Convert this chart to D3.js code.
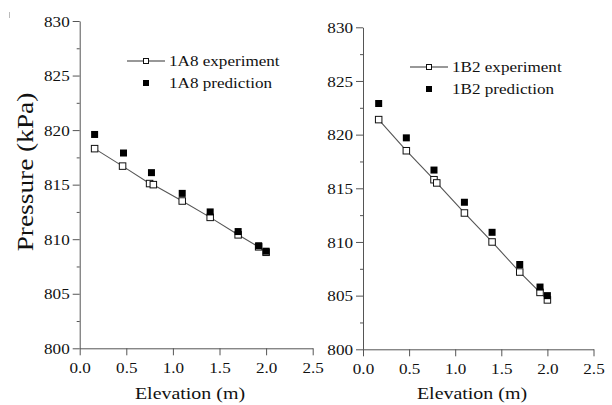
<!DOCTYPE html>
<html>
<head>
<meta charset="utf-8">
<script src="https://cdn.jsdelivr.net/npm/d3@7"></script>
<style>
  html, body { margin: 0; padding: 0; background: #fff; }
  svg { display: block; }
</style>
</head>
<body>
<svg id="chart" width="612" height="405"></svg>
<script>
// two pressure-vs-elevation panels, Origin style (open squares + line vs filled squares)

const xTicks = [0.0, 0.5, 1.0, 1.5, 2.0, 2.5];
const yTicks = [800, 805, 810, 815, 820, 825, 830];

// 1A8
const elev1A8Exp  = [0.16, 0.46, 0.75, 0.79, 1.10, 1.40, 1.70, 1.92, 2.00];
const pres1A8Exp  = [818.3, 816.7, 815.1, 815.0, 813.5, 812.0, 810.4, 809.3, 808.8];
const elev1A8Pred = [0.16, 0.47, 0.77, 1.10, 1.40, 1.70, 1.92, 2.00];
const pres1A8Pred = [819.6, 817.9, 816.1, 814.2, 812.5, 810.7, 809.4, 808.9];

// 1B2
const elev1B2Exp  = [0.17, 0.47, 0.77, 0.80, 1.10, 1.40, 1.70, 1.92, 2.00];
const pres1B2Exp  = [821.4, 818.5, 815.8, 815.5, 812.7, 810.0, 807.2, 805.3, 804.6];
const elev1B2Pred = [0.17, 0.47, 0.77, 1.10, 1.40, 1.70, 1.92, 2.00];
const pres1B2Pred = [822.9, 819.7, 816.7, 813.7, 810.9, 807.9, 805.8, 805.0];

const FONT = "Liberation Serif, Times New Roman, serif";
const AXIS = "#555";
const STRETCH = 1.14; // glyphs in the source look a little wide

const panels = [
  { name: "1A8", ex: elev1A8Exp, ey: pres1A8Exp, px: elev1A8Pred, py: pres1A8Pred,
    x0: 79.7, x1: 312.7, yTop: 21, yBot: 348.3, legX: 127, legY: 61, titleX: 190 },
  { name: "1B2", ex: elev1B2Exp, ey: pres1B2Exp, px: elev1B2Pred, py: pres1B2Pred,
    x0: 363, x1: 593.5, yTop: 27.3, yBot: 349.3, legX: 410, legY: 67, titleX: 472 },
];

const svg = d3.select("#chart");

// stray mark at the top-left of the scan
svg.append("line").attr("x1", 9.5).attr("x2", 9.5).attr("y1", 12).attr("y2", 18)
  .attr("stroke", "#bbb").attr("stroke-width", 1);

function stretchedText(g, x, y, str, size, anchor, rot) {
  return g.append("text")
    .attr("transform", `translate(${x},${y}) rotate(${rot || 0}) scale(${STRETCH},1)`)
    .attr("font-family", FONT).attr("font-size", size)
    .attr("text-anchor", anchor || "start").attr("fill", "#111")
    .text(str);
}

panels.forEach((p) => {
  const x = d3.scaleLinear().domain([0, 2.5]).range([p.x0, p.x1]);
  const y = d3.scaleLinear().domain([800, 830]).range([p.yBot, p.yTop]);
  const g = svg.append("g");

  // minor y ticks
  g.append("g").attr("transform", `translate(${p.x0},0)`)
    .call(d3.axisLeft(y).tickValues(d3.range(802.5, 830, 5)).tickSize(3).tickFormat(""))
    .call((a) => a.select(".domain").remove())
    .call((a) => a.selectAll("line").attr("stroke", AXIS));

  // major y axis
  const ya = g.append("g").attr("transform", `translate(${p.x0},0)`)
    .attr("font-family", FONT)
    .call(d3.axisLeft(y).tickValues(yTicks).tickSize(7).tickSizeOuter(0).tickPadding(0).tickFormat(d3.format("d")));
  ya.attr("font-family", FONT);
  ya.select(".domain").attr("stroke", AXIS);
  ya.selectAll(".tick line").attr("stroke", AXIS);
  ya.selectAll(".tick text")
    .attr("font-family", FONT).attr("font-size", 15).attr("fill", "#111")
    .attr("x", null).attr("dy", "0.34em")
    .attr("transform", `translate(-10,0) scale(${STRETCH},1)`);

  // x axis
  const xa = g.append("g").attr("transform", `translate(0,${p.yBot})`)
    .call(d3.axisBottom(x).tickValues(xTicks).tickSize(7).tickSizeOuter(0).tickPadding(0).tickFormat(d3.format(".1f")));
  xa.attr("font-family", FONT);
  xa.select(".domain").attr("stroke", AXIS);
  xa.selectAll(".tick line").attr("stroke", AXIS);
  xa.selectAll(".tick text")
    .attr("font-family", FONT).attr("font-size", 15).attr("fill", "#111")
    .attr("y", null).attr("dy", "0.71em")
    .attr("transform", `translate(0,14) scale(${STRETCH},1)`);

  stretchedText(g, p.titleX, 399, "Elevation (m)", 17.5, "middle");

  // experiment line + open squares
  const expPts = p.ex.map((e, i) => [e, p.ey[i]]);
  const predPts = p.px.map((e, i) => [e, p.py[i]]);
  g.append("path").datum(expPts)
    .attr("d", d3.line().x((d) => x(d[0])).y((d) => y(d[1])))
    .attr("fill", "none").attr("stroke", "#555").attr("stroke-width", 1.1);

  const S = 6.5;
  g.selectAll("rect.exp").data(expPts).join("rect").attr("class", "exp")
    .attr("x", (d) => x(d[0]) - S / 2).attr("y", (d) => y(d[1]) - S / 2)
    .attr("width", S).attr("height", S)
    .attr("fill", "#fff").attr("stroke", "#111").attr("stroke-width", 1);

  const F = 7;
  g.selectAll("rect.pred").data(predPts).join("rect").attr("class", "pred")
    .attr("x", (d) => x(d[0]) - F / 2).attr("y", (d) => y(d[1]) - F / 2)
    .attr("width", F).attr("height", F).attr("fill", "#000");

  // legend
  const lg = g.append("g");
  lg.append("line").attr("x1", p.legX).attr("x2", p.legX + 38)
    .attr("y1", p.legY).attr("y2", p.legY).attr("stroke", "#333").attr("stroke-width", 1.1);
  lg.append("rect").attr("x", p.legX + 19 - 2.5).attr("y", p.legY - 2.5)
    .attr("width", 5).attr("height", 5).attr("fill", "#fff").attr("stroke", "#111");
  lg.append("rect").attr("x", p.legX + 19 - 3).attr("y", p.legY + 22 - 3)
    .attr("width", 6).attr("height", 6).attr("fill", "#000");
  stretchedText(lg, p.legX + 42, p.legY + 5, `${p.name} experiment`, 15, "start");
  stretchedText(lg, p.legX + 42, p.legY + 27, `${p.name} prediction`, 15, "start");
});

// shared y title
stretchedText(svg, 33, 172, "Pressure (kPa)", 24, "middle", -90);
</script>
</body>
</html>
